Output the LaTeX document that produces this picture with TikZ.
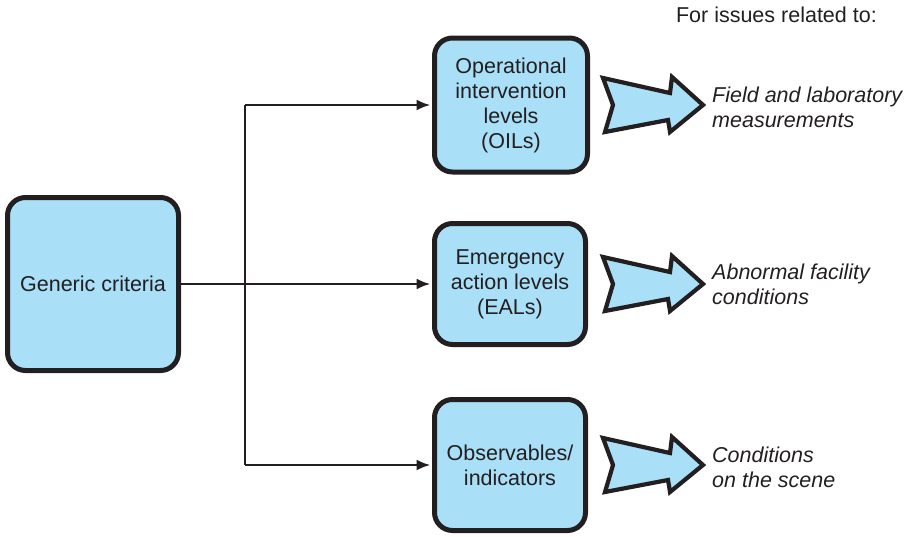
\documentclass[tikz,border=0pt]{standalone}
\usepackage{fontspec}
\setmainfont{Liberation Sans}
\usetikzlibrary{arrows.meta, positioning}

\definecolor{skyfill}{RGB}{169,223,247}
\definecolor{ink}{RGB}{35,31,32}
\newcommand{\boxfont}{\fontsize{21.5}{25}\selectfont}

\begin{document}
\begin{tikzpicture}[
  x=1pt, y=-1pt,
  level/.style={
    rectangle, rounded corners=18pt,
    draw=ink, line width=5pt, fill=skyfill,
    align=center, font=\boxfont, text=ink, inner sep=0pt
  },
  feed/.style={-{Latex[length=14pt, width=11pt]}, line width=2.6pt, draw=ink, shorten >=1.5pt},
  trunk/.style={line width=2.6pt, draw=ink},
  issue/.style={anchor=west, align=left, font=\boxfont\itshape, text=ink, inner sep=0pt},
  pointer/.pic={
    \draw[draw=ink, line width=4.2pt, fill=skyfill, line join=miter]
      (0,-27) -- (67,-12) -- (69,-28) -- (100,0) -- (67,27) -- (65,15)
      -- (2,27) -- (10,0) -- cycle;
  },
]

\useasboundingbox (0,0) rectangle (912,536);

%% ════════════════════════════════════════════════
%% CRITERIA AND LEVELS
%% ════════════════════════════════════════════════

\node[level, minimum width=171pt, minimum height=173pt]
  (generic) at (93,284) {Generic criteria};

\node[level, minimum width=153pt, minimum height=134pt]
  (oil) at (511,105) {Operational\\intervention\\levels\\(OILs)};
\node[level, minimum width=151pt, minimum height=121pt]
  (eal) at (510,284) {Emergency\\action levels\\(EALs)};
\node[level, minimum width=151pt, minimum height=131pt]
  (obs) at (510,465) {Observables/\\indicators};

%% ════════════════════════════════════════════════
%% CONNECTIONS
%% ════════════════════════════════════════════════

\coordinate (split) at (245,0);

\draw[feed]  (generic) -- (eal);
\draw[trunk] (split |- oil) -- (split |- obs);
\draw[feed]  (split |- oil) -- (oil);
\draw[feed]  (split |- obs) -- (obs);

%% ════════════════════════════════════════════════
%% ISSUES
%% ════════════════════════════════════════════════

\node[font=\boxfont, text=ink, anchor=east, inner sep=0pt]
  (header) at (877,15) {For issues related to:};

\pic at (603,105) {pointer};
\pic at (603,284) {pointer};
\pic at (603,465) {pointer};

\node[issue] (fieldlab) at (712,107) {Field and laboratory\\measurements};
\node[issue] (facility) at (712,284) {Abnormal facility\\conditions};
\node[issue] (scene)    at (712,467) {Conditions\\on the scene};

\end{tikzpicture}
\end{document}
